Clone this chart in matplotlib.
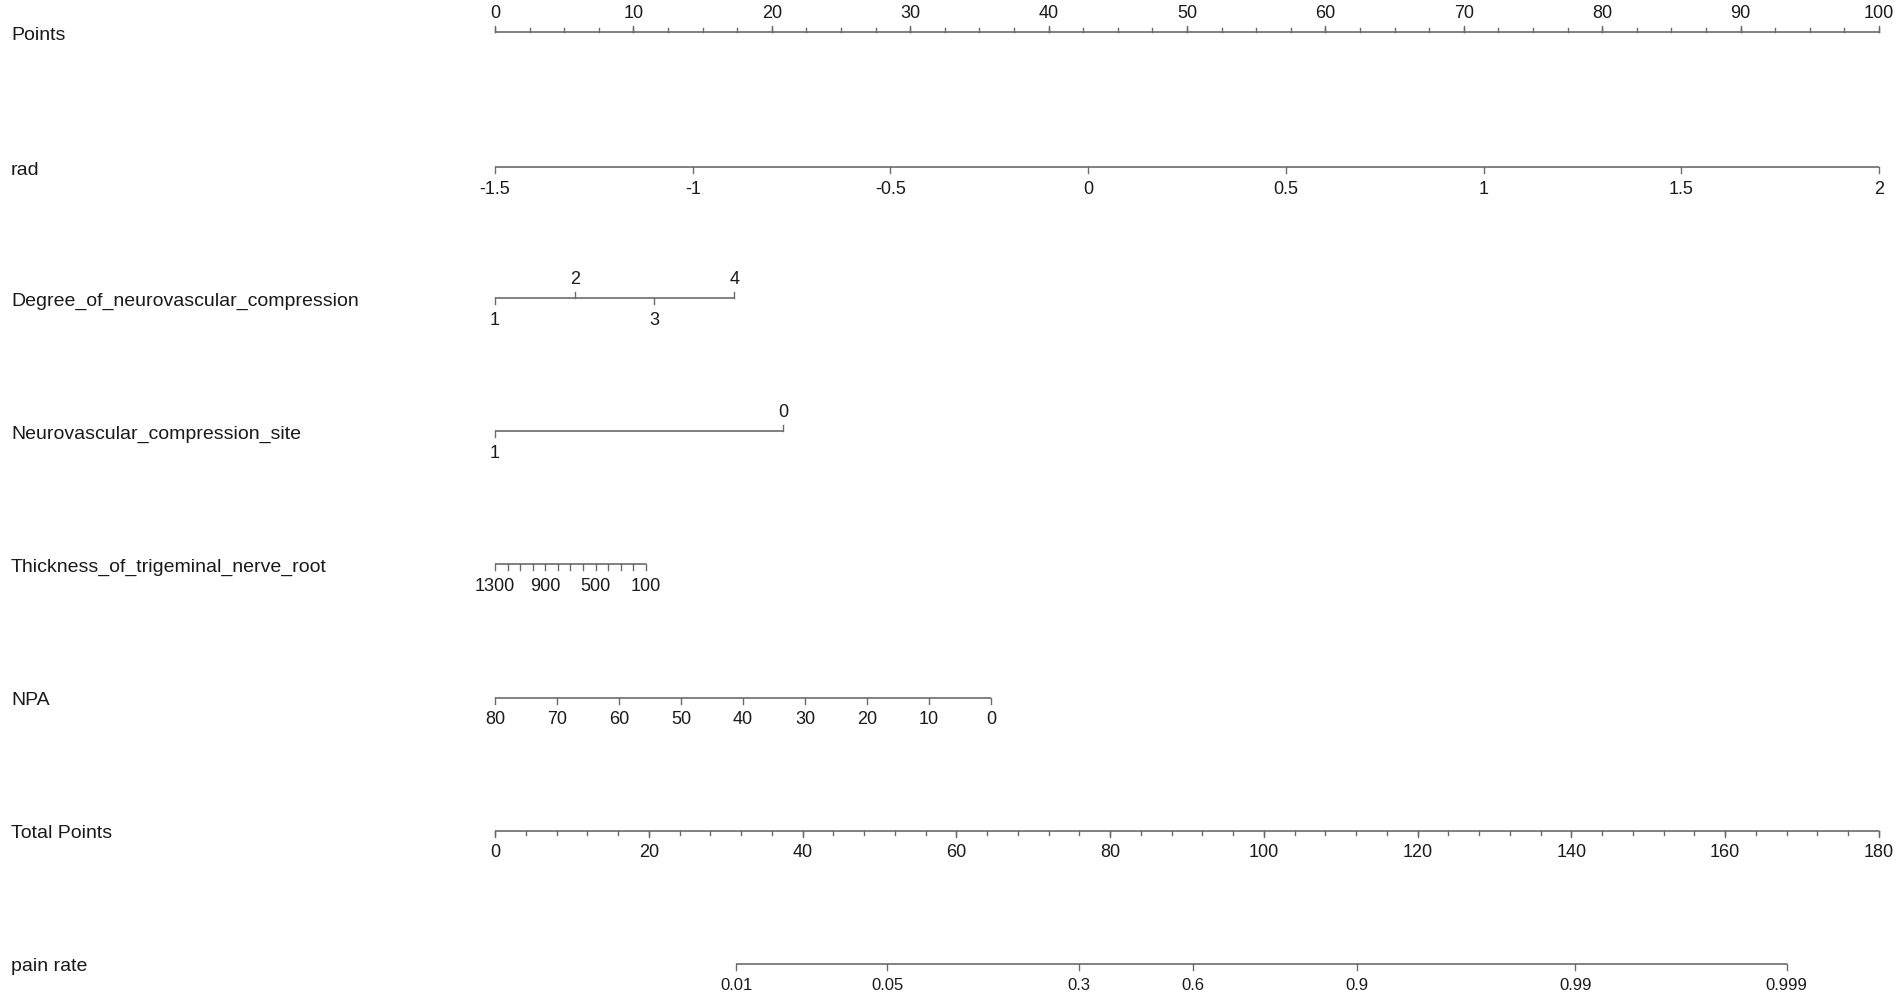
import matplotlib
matplotlib.use("Agg")
import matplotlib.pyplot as plt

# nomogram scales: value labels and the points each value sits at
points_major = [0, 10, 20, 30, 40, 50, 60, 70, 80, 90, 100]
points_minor = [i * 2.5 for i in range(41)]

rad_labels = ["-1.5", "-1", "-0.5", "0", "0.5", "1", "1.5", "2"]
rad_points = [0, 14.29, 28.57, 42.86, 57.14, 71.43, 85.71, 100]

degree_labels = ["1", "2", "3", "4"]
degree_points = [0, 5.8, 11.5, 17.3]

site_labels = ["1", "0"]
site_points = [0, 20.8]

thick_labels = ["1300", "", "", "", "900", "", "", "", "500", "", "", "", "100"]
thick_points = [0, 0.91, 1.82, 2.73, 3.63, 4.54, 5.45, 6.36, 7.27, 8.18, 9.08, 9.99, 10.9]

npa_labels = ["80", "70", "60", "50", "40", "30", "20", "10", "0"]
npa_points = [0, 4.48, 8.96, 13.44, 17.92, 22.41, 26.89, 31.37, 35.85]

total_major = [0, 20, 40, 60, 80, 100, 120, 140, 160, 180]
total_minor = list(range(0, 181, 4))

pain_labels = ["0.01", "0.05", "0.3", "0.6", "0.9", "0.99", "0.999"]
pain_total = [31.4, 51.0, 75.9, 90.8, 112.1, 140.5, 168.0]

row_names = ["Points", "rad", "Degree_of_neurovascular_compression",
             "Neurovascular_compression_site", "Thickness_of_trigeminal_nerve_root",
             "NPA", "Total Points", "pain rate"]

plt.rcParams['font.family'] = ['Liberation Sans', 'DejaVu Sans']
LC = "#6b6b6b"
TC = "#1a1a1a"
FS = 13
TL = 6  # tick length in px units

fig = plt.figure(figsize=(19.02, 10), dpi=100)
ax = fig.add_axes([0, 0, 1, 1])
px = 13.84  # pixels per point
ax.set_xlim(-495 / px, (1902 - 495) / px)
ax.set_ylim(1000, 0)
ax.axis("off")

rows = [32 + 133.1 * i for i in range(8)]
rows[1] += 2

for name, y in zip(row_names, rows):
    ax.text(-484 / px, y + 3, name, fontsize=14, color=TC, va="center", ha="left")


def scale(y, pos, labels, up=None, minor=None, minor_len=4, fs=FS):
    ax.plot([pos[0], pos[-1]], [y, y], color=LC, lw=1.2, solid_capstyle="butt")
    if minor is not None:
        for m in minor:
            ax.plot([m, m], [y, y + minor_len * (-1 if up is True else 1)], color=LC, lw=1)
    for i, (p, lab) in enumerate(zip(pos, labels)):
        u = up[i] if isinstance(up, list) else bool(up)
        d = -1 if u else 1
        ax.plot([p, p], [y, y + d * TL], color=LC, lw=1)
        if lab:
            off = 19 if u else 22
            ax.text(p, y + d * off, lab, fontsize=fs, color=TC, ha="center", va="center")


scale(rows[0], points_major, [str(v) for v in points_major], up=True, minor=points_minor)
scale(rows[1], rad_points, rad_labels, up=False)
scale(rows[2], degree_points, degree_labels, up=[False, True, False, True])
scale(rows[3], site_points, site_labels, up=[False, True])
scale(rows[4], thick_points, thick_labels, up=False)
scale(rows[5], npa_points, npa_labels, up=False)

tot_scale = 100 / 180
scale(rows[6], [v * tot_scale for v in total_major], [str(v) for v in total_major],
      up=False, minor=[v * tot_scale for v in total_minor])
scale(rows[7], [v * tot_scale for v in pain_total], pain_labels, up=False, fs=12)

fig.savefig("out.png", dpi=100, facecolor="white")
